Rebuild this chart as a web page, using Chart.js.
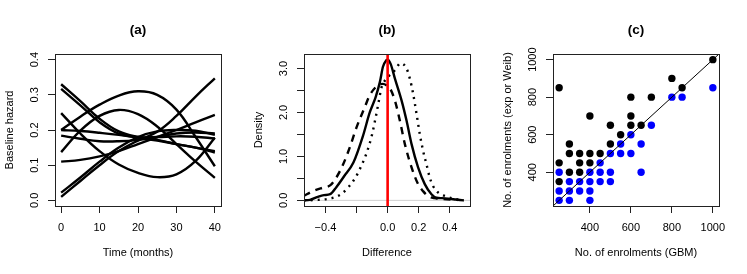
<!DOCTYPE html>
<html>
<head>
<meta charset="utf-8">
<script src="https://cdn.jsdelivr.net/npm/chart.js@4.4.0/dist/chart.umd.min.js"></script>
<style>
  html, body { margin: 0; padding: 0; background: #fff; }
  #wrap { position: relative; width: 747px; height: 274px; }
  #wrap canvas { position: absolute; top: 0; }
</style>
</head>
<body>
<div id="wrap">
  <canvas id="chartA" width="249" height="274" style="left:0px"></canvas>
  <canvas id="chartB" width="249" height="274" style="left:249px"></canvas>
  <canvas id="chartC" width="249" height="274" style="left:498px"></canvas>
</div>
<script>
// ---- (a) baseline hazard curves, read at 5-month steps ----
const months = [0, 5, 10, 15, 20, 25, 30, 35, 40];
const hazard1 = [0.330, 0.282, 0.232, 0.196, 0.180, 0.172, 0.160, 0.150, 0.136];
const hazard2 = [0.317, 0.270, 0.222, 0.190, 0.180, 0.180, 0.182, 0.181, 0.176];
const hazard3 = [0.248, 0.190, 0.140, 0.102, 0.078, 0.066, 0.074, 0.112, 0.178];
const hazard4 = [0.200, 0.238, 0.272, 0.298, 0.310, 0.300, 0.258, 0.180, 0.097];
const hazard5 = [0.137, 0.198, 0.240, 0.257, 0.245, 0.210, 0.160, 0.110, 0.064];
const hazard6 = [0.200, 0.197, 0.192, 0.186, 0.178, 0.170, 0.160, 0.150, 0.140];
const hazard7 = [0.184, 0.175, 0.168, 0.168, 0.172, 0.180, 0.190, 0.193, 0.190];
const hazard8 = [0.110, 0.115, 0.125, 0.140, 0.160, 0.180, 0.200, 0.222, 0.243];
const hazard9 = [0.022, 0.065, 0.110, 0.150, 0.180, 0.196, 0.200, 0.198, 0.186];
const hazard10 = [0.010, 0.055, 0.100, 0.140, 0.170, 0.195, 0.240, 0.295, 0.347];
const hazards = [hazard1, hazard2, hazard3, hazard4, hazard5, hazard6, hazard7, hazard8, hazard9, hazard10];
const monthTicks = [0, 10, 20, 30, 40];
const hazardTicks = [0, 0.1, 0.2, 0.3, 0.4];

// ---- (b) density of differences ----
const diffSolid = [-0.54, -0.5, -0.45, -0.41, -0.37, -0.33, -0.28, -0.22, -0.16, -0.115, -0.077, -0.05, -0.03, -0.01, 0.0, 0.02, 0.047, 0.09, 0.122, 0.154, 0.196, 0.239, 0.282, 0.314, 0.35, 0.39, 0.44, 0.49];
const densSolid = [0.0, 0.01, 0.08, 0.12, 0.14, 0.3, 0.55, 0.86, 1.45, 2.0, 2.35, 2.69, 3.04, 3.18, 3.2, 3.1, 2.77, 2.27, 1.81, 1.28, 0.75, 0.37, 0.14, 0.06, 0.05, 0.04, 0.02, 0.0];
const diffDash = [-0.54, -0.48, -0.415, -0.37, -0.33, -0.286, -0.244, -0.2, -0.147, -0.115, -0.062, -0.03, 0.0, 0.015, 0.047, 0.079, 0.111, 0.154, 0.196, 0.228, 0.26, 0.3, 0.36, 0.45];
const densDash = [0.1, 0.21, 0.29, 0.34, 0.52, 0.82, 1.2, 1.66, 2.12, 2.39, 2.62, 2.65, 2.6, 2.55, 2.27, 1.81, 1.28, 0.75, 0.37, 0.21, 0.1, 0.05, 0.03, 0.01];
const diffDot = [-0.54, -0.45, -0.39, -0.34, -0.3, -0.26, -0.21, -0.17, -0.135, -0.1, -0.075, -0.056, -0.041, -0.019, 0.0, 0.047, 0.083, 0.122, 0.143, 0.164, 0.186, 0.207, 0.228, 0.25, 0.271, 0.292, 0.324, 0.367, 0.42, 0.49];
const densDot = [0.0, 0.01, 0.03, 0.07, 0.14, 0.27, 0.5, 0.78, 1.08, 1.5, 1.92, 2.27, 2.55, 2.72, 2.8, 2.96, 3.12, 3.0, 2.77, 2.43, 1.97, 1.51, 1.13, 0.82, 0.52, 0.33, 0.18, 0.1, 0.04, 0.0];
const diffTicks = [-0.4, -0.2, 0, 0.2, 0.4];
const densityTicks = [0, 0.5, 1, 1.5, 2, 2.5, 3];

// ---- (c) enrolments: GBM vs exp (black) and Weibull (blue) ----
const gbmExp = [250, 250, 250, 300, 300, 300, 350, 350, 350, 400, 400, 400, 450, 500, 500, 550, 600, 600, 600, 650, 700, 800, 850, 1000];
const expEnrol = [850, 450, 350, 550, 500, 400, 500, 450, 400, 700, 500, 450, 500, 650, 550, 600, 800, 700, 650, 650, 800, 900, 850, 1000];
const gbmWeib = [250, 250, 250, 300, 300, 300, 350, 350, 400, 400, 400, 400, 450, 450, 450, 500, 500, 500, 550, 550, 600, 600, 650, 650, 700, 800, 850, 1000];
const weibEnrol = [400, 300, 250, 350, 300, 250, 350, 300, 400, 350, 300, 250, 450, 400, 350, 500, 400, 350, 550, 500, 600, 500, 550, 400, 650, 800, 800, 850];
const enrolTicks = [400, 600, 800, 1000];

const FONT = '"Liberation Sans", Arial, Helvetica, sans-serif';
Chart.defaults.font.family = FONT;
Chart.defaults.font.size = 11;
Chart.defaults.color = '#000';

const pairs = (xs, ys) => xs.map((x, i) => ({ x: x, y: ys[i] }));
const fixed1 = v => (v < 0 ? '\u2212' : '') + Math.abs(v).toFixed(1);
const CLIP = { left: 0, top: 0, right: 0, bottom: 0 };

// box round the plot, panel title and R-style rotated y tick labels
const rFrame = {
    id: 'rFrame',
    afterDraw(chart, args, opts) {
        const { ctx, chartArea: a } = chart;
        ctx.save();
        ctx.strokeStyle = '#222';
        ctx.lineWidth = 1;
        ctx.strokeRect(a.left + 0.5, a.top + 0.5, a.right - a.left, a.bottom - a.top);

        ctx.fillStyle = '#000';
        ctx.textAlign = 'center';
        ctx.textBaseline = 'middle';
        ctx.font = 'bold 13.5px ' + FONT;
        ctx.fillText(opts.title, (a.left + a.right) / 2, 30);

        const ys = chart.scales.y;
        ctx.font = '11px ' + FONT;
        ys.ticks.forEach(t => {
            if (!t.label) return;
            ctx.save();
            ctx.translate(a.left - 20.5, ys.getPixelForValue(t.value));
            ctx.rotate(-Math.PI / 2);
            ctx.fillText(t.label, 0, 0);
            ctx.restore();
        });
        ctx.restore();
    }
};

function axis(isX, min, max, tickVals, fmt, title) {
    return {
        type: 'linear',
        position: isX ? 'bottom' : 'left',
        min: min,
        max: max,
        afterBuildTicks: scale => { scale.ticks = tickVals.map(v => ({ value: v })); },
        afterFit: scale => {
            if (isX) scale.height = 68; else scale.width = 55;
        },
        grid: { display: true, drawOnChartArea: false, drawTicks: true, tickLength: 7, color: '#222', lineWidth: 1 },
        border: { display: true, color: '#222', width: 1 },
        ticks: {
            display: isX,
            autoSkip: false,
            maxRotation: 0,
            minRotation: 0,
            padding: 8,
            callback: v => fmt(v)
        },
        title: {
            display: true,
            text: title,
            font: { size: 11 },
            padding: isX ? { top: 0, bottom: 14 } : { top: 3, bottom: 0 }
        }
    };
}

function baseOptions(title, xScale, yScale) {
    return {
        responsive: false,
        animation: false,
        events: [],
        layout: { padding: { top: 54, right: 28, left: 0, bottom: 0 } },
        plugins: { legend: { display: false }, tooltip: { enabled: false }, rFrame: { title: title } },
        scales: { x: xScale, y: yScale }
    };
}

// (a)
new Chart(document.getElementById('chartA'), {
    type: 'scatter',
    data: {
        datasets: hazards.map(h => ({
            data: pairs(months, h),
            showLine: true,
            borderColor: '#000',
            borderWidth: 2.4,
            pointRadius: 0,
            tension: 0.4,
            clip: CLIP
        }))
    },
    options: baseOptions('(a)',
        axis(true, -1.6, 41.6, monthTicks, v => String(v), 'Time (months)'),
        axis(false, -0.016, 0.416, hazardTicks, v => v.toFixed(1), 'Baseline hazard')),
    plugins: [rFrame]
});

// (b)
const curveStyle = { showLine: true, borderColor: '#000', borderWidth: 2.4, pointRadius: 0, cubicInterpolationMode: 'monotone', clip: CLIP };
new Chart(document.getElementById('chartB'), {
    type: 'scatter',
    data: {
        datasets: [
            { data: [{ x: 0, y: -0.5 }, { x: 0, y: 3.6 }], showLine: true, borderColor: '#ff0000', borderWidth: 2.6, pointRadius: 0, clip: CLIP },
            Object.assign({ data: pairs(diffSolid, densSolid) }, curveStyle),
            Object.assign({ data: pairs(diffDash, densDash), borderDash: [7, 6] }, curveStyle),
            Object.assign({ data: pairs(diffDot, densDot), borderDash: [2, 5] }, curveStyle),
            { data: [{ x: -0.6, y: 0 }, { x: 0.6, y: 0 }], showLine: true, borderColor: '#d0d0d0', borderWidth: 1, pointRadius: 0, clip: CLIP }
        ]
    },
    options: baseOptions('(b)',
        axis(true, -0.538, 0.53, diffTicks, v => (Math.abs(v + 0.2) < 1e-9 ? '' : fixed1(v)), 'Difference'),
        axis(false, -0.128, 3.33, densityTicks, v => (Number.isInteger(v) ? fixed1(v) : ''), 'Density')),
    plugins: [rFrame]
});

// (c)
new Chart(document.getElementById('chartC'), {
    type: 'scatter',
    data: {
        datasets: [
            { data: [{ x: 100, y: 100 }, { x: 1100, y: 1100 }], showLine: true, borderColor: '#000', borderWidth: 1, pointRadius: 0, clip: CLIP },
            { data: pairs(gbmWeib, weibEnrol), backgroundColor: '#0000ff', borderWidth: 0, pointRadius: 3.7 },
            { data: pairs(gbmExp, expEnrol), backgroundColor: '#000', borderWidth: 0, pointRadius: 3.7 }
        ]
    },
    options: baseOptions('(c)',
        axis(true, 220, 1030, enrolTicks, v => String(v), 'No. of enrolments (GBM)'),
        axis(false, 220, 1030, enrolTicks, v => String(v), 'No. of enrolments (exp or Weib)')),
    plugins: [rFrame]
});
</script>
</body>
</html>
